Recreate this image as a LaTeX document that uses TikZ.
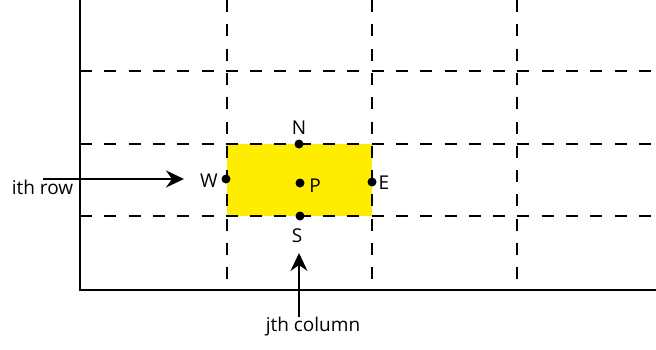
\documentclass[tikz,border=0pt]{standalone}
\usepackage{fontspec}
\setmainfont{Open Sans}
\usetikzlibrary{arrows.meta}
\begin{document}
\begin{tikzpicture}[x=1pt,y=-1pt,
  gridline/.style={line width=2pt,dash pattern=on 12pt off 12.3pt},
  frame/.style={line width=2pt},
  dot/.style={circle,fill=black,inner sep=0pt,minimum size=9pt},
  lab/.style={font=\fontsize{19}{21}\selectfont,inner sep=0pt},
  pointer/.style={line width=2pt,-{Stealth[length=18pt,width=17pt,inset=6pt]}}]
\useasboundingbox (0,0) rectangle (656,349);
% highlighted control volume
\fill[yellow!95!orange!100] (227,144) rectangle (372,216);
% dashed grid
\foreach \x in {227,372,517}
  \draw[gridline] (\x,0) -- (\x,290);
\foreach \y in {71,144,216}
  \draw[gridline] (80,\y) -- (656,\y);
% solid axes
\draw[frame] (80,0) -- (80,290) -- (656,290);
% grid points
\node[dot] (N) at (299,144) {};
\node[dot] (S) at (300,216) {};
\node[dot] (W) at (226,179) {};
\node[dot] (E) at (372,182) {};
\node[dot] (P) at (300,183) {};
\node[lab] (Nl) at (299,128) {N};
\node[lab] (Sl) at (297,236) {S};
\node[lab] (Wl) at (209,181) {W};
\node[lab] (El) at (384,183) {E};
\node[lab] (Pl) at (315,186) {P};
% row and column markers
\node[lab] (row) at (42.5,187) {ith row};
\node[lab] (col) at (313,327) {jth column};
\coordinate (rowtail) at (43,179);
\coordinate (rowhead) at (184,179);
\coordinate (coltail) at (299,317);
\coordinate (colhead) at (299,253);
\draw[pointer] (rowtail) -- (rowhead);
\draw[pointer] (coltail) -- (colhead);
\end{tikzpicture}
\end{document}
